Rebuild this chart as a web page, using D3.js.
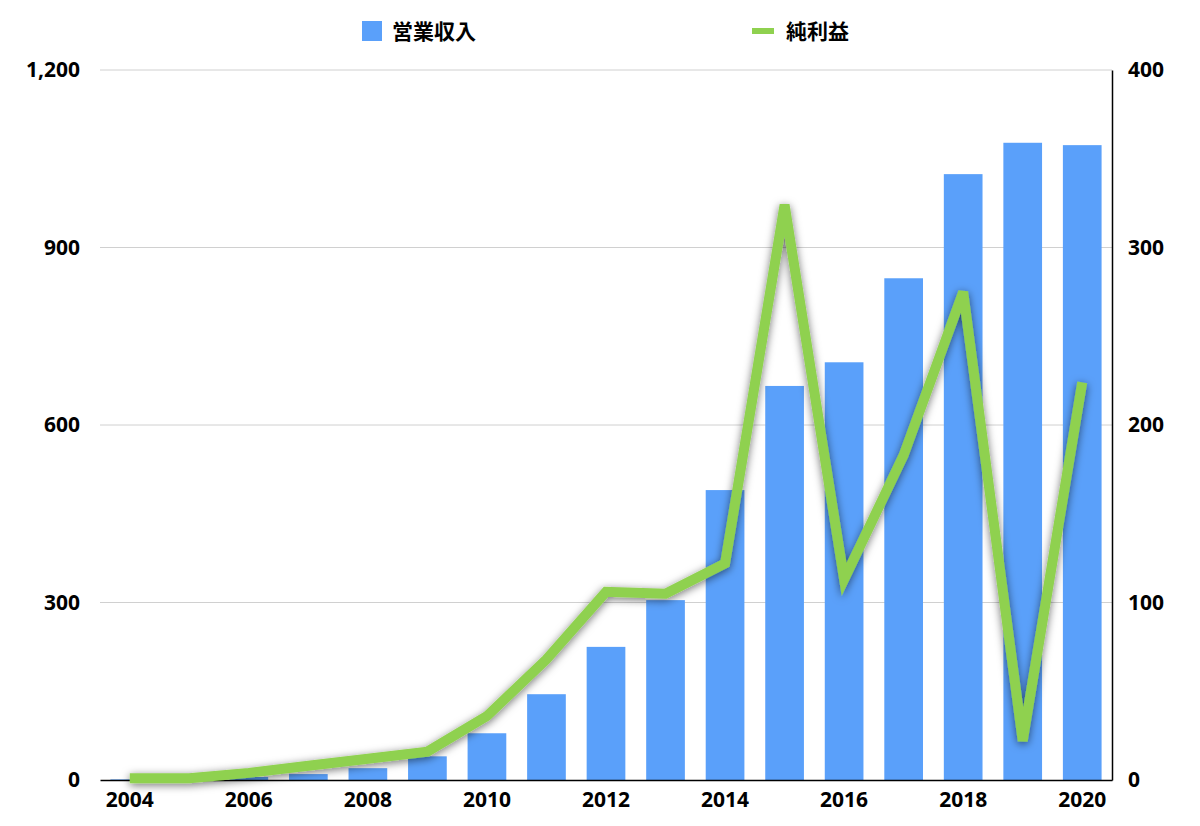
<!DOCTYPE html>
<html><head><meta charset="utf-8">
<script src="https://cdn.jsdelivr.net/npm/d3@7"></script>
<style>body{margin:0;background:#fff}text{font-family:"Noto Sans CJK JP","Noto Sans",sans-serif}</style>
</head><body><svg id="c" width="1200" height="826"></svg>
<script>
const years=["2004","2005","2006","2007","2008","2009","2010","2011","2012","2013","2014","2015","2016","2017","2018","2019","2020"];
const revenue=[1,2,5,10,20,40,79,145,225,304,490,666,706,848,1024,1077,1073];
const profit=[1,1,4,8,12,16,36,68,106,105,122,324,113,183,275,22,224];
const leftTicks=[0,300,600,900,1200];
const rightTicks=[0,100,200,300,400];
const xLabels=["2004","2006","2008","2010","2012","2014","2016","2018","2020"];

const svg=d3.select("#c");
const L=100,R=1112,T=70,B=780;
const x=d3.scaleBand().domain(years).range([L,R]).paddingInner(0.35).paddingOuter(0.175);
const yL=d3.scaleLinear().domain([0,1200]).range([B,T]);
const yR=d3.scaleLinear().domain([0,400]).range([B,T]);

const defs=svg.append("defs");
const f=defs.append("filter").attr("id","sh").attr("x","-20%").attr("y","-20%").attr("width","140%").attr("height","140%");
f.append("feDropShadow").attr("dx",0).attr("dy",2).attr("stdDeviation",4).attr("flood-color","#000").attr("flood-opacity",0.55);

svg.append("g").selectAll("line").data(leftTicks.slice(1)).join("line")
 .attr("x1",L).attr("x2",R).attr("y1",d=>yL(d)).attr("y2",d=>yL(d)).attr("stroke","#d0d0d0").attr("stroke-width",1);

svg.append("g").selectAll("rect").data(revenue).join("rect")
 .attr("x",(d,i)=>x(years[i])).attr("width",x.bandwidth())
 .attr("y",d=>yL(d)).attr("height",d=>B-yL(d)).attr("fill","#5aa0fa");

const gl=svg.append("g").attr("transform",`translate(${L},0)`).call(d3.axisLeft(yL).tickValues(leftTicks).tickSize(0).tickPadding(20));
gl.select(".domain").remove();
const gr=svg.append("g").attr("transform",`translate(${R},0)`).call(d3.axisRight(yR).tickValues(rightTicks).tickSize(0).tickPadding(16));
gr.select(".domain").attr("stroke","#000").attr("stroke-width",1.5);
const gx=svg.append("g").attr("transform",`translate(0,${B})`).call(d3.axisBottom(x).tickValues(xLabels).tickSize(0).tickPadding(12));
gx.select(".domain").attr("stroke","#000").attr("stroke-width",1.5);
svg.selectAll(".tick text").attr("font-size",21).attr("font-weight","bold").attr("fill","#000")
 .style("font-family","'Noto Sans','DejaVu Sans',sans-serif");

const line=d3.line().x((d,i)=>x(years[i])+x.bandwidth()/2).y(d=>yR(d));
svg.append("path").datum(profit).attr("d",line).attr("fill","none").attr("stroke","#8fd14f")
 .attr("stroke-width",10).attr("stroke-linejoin","miter").attr("filter","url(#sh)");

const lg=svg.append("g");
lg.append("rect").attr("x",362).attr("y",21).attr("width",20).attr("height",20).attr("fill","#5aa0fa");
lg.append("text").attr("x",392).attr("y",39).attr("font-size",21).attr("font-weight","bold").text("営業収入");
lg.append("line").attr("x1",752).attr("x2",774).attr("y1",31).attr("y2",31).attr("stroke","#8fd14f").attr("stroke-width",6);
lg.append("text").attr("x",786).attr("y",39).attr("font-size",21).attr("font-weight","bold").text("純利益");
</script></body></html>
